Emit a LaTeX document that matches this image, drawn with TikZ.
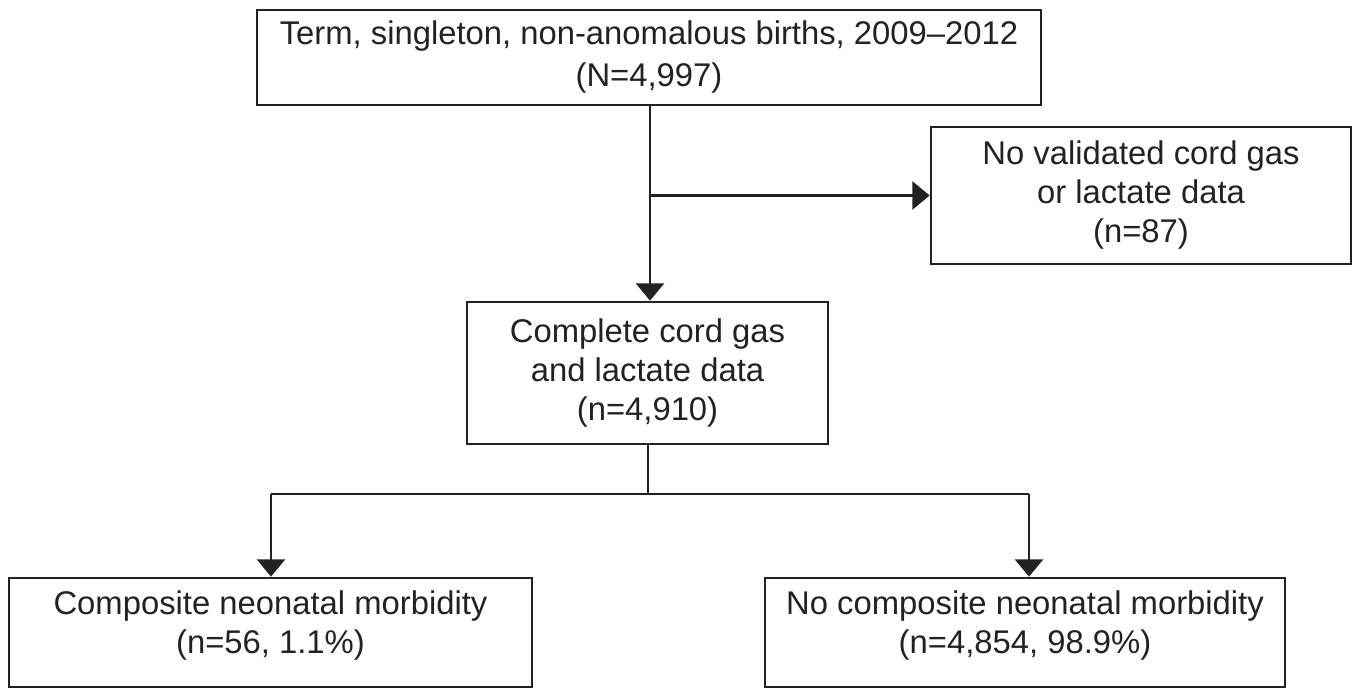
\documentclass[tikz,border=0pt]{standalone}
\usepackage{fontspec}
\setmainfont{Liberation Sans}
\usetikzlibrary{arrows.meta}
\definecolor{ink}{HTML}{222222}
\tikzset{
  box/.style={draw=ink, line width=2pt, inner sep=0pt, align=center, text=ink,
    font=\fontsize{24.6}{29.25}\selectfont},
  conn/.style={draw=ink, line width=2pt},
  arr/.style={conn, -{Triangle[width=21pt,length=13pt]}}
}
\begin{document}
\begin{tikzpicture}[x=0.75pt,y=-0.75pt]
\useasboundingbox (0,0) rectangle (1358,688);
\node[box, minimum width=588pt, minimum height=71.25pt,
  font=\fontsize{24.6}{31.5}\selectfont] (top) at (649,57.5)
  {Term, singleton, non-anomalous births, 2009–2012\\(N=4,997)};
\node[box, minimum width=315pt, minimum height=102.75pt] (excl) at (1141,195.5)
  {No validated cord gas\\or lactate data\\(n=87)};
\node[box, minimum width=270.75pt, minimum height=106.5pt] (mid) at (647.5,373)
  {Complete cord gas\\and lactate data\\(n=4,910)};
\node[box, minimum width=392.25pt, minimum height=81.75pt, text depth=15pt] (bl) at (270.5,632.5)
  {Composite neonatal morbidity\\(n=56, 1.1\%)};
\node[box, minimum width=390pt, minimum height=81.75pt, text depth=15pt] (br) at (1025,632.5)
  {No composite neonatal morbidity\\(n=4,854, 98.9\%)};
\coordinate (vx) at (650,0);
\coordinate (jl) at (271,494);
\coordinate (jr) at (1029,494);
\coordinate (jm) at (648,494);
\draw[arr] (vx |- top.south) -- (vx |- mid.north);
\draw[arr] (vx |- excl.west) -- (excl.west);
\draw[conn] (jm |- mid.south) -- (jm);
\draw[conn] (jl) -- (jr);
\draw[arr] (jl) -- (jl |- bl.north);
\draw[arr] (jr) -- (jr |- br.north);
\end{tikzpicture}
\end{document}
